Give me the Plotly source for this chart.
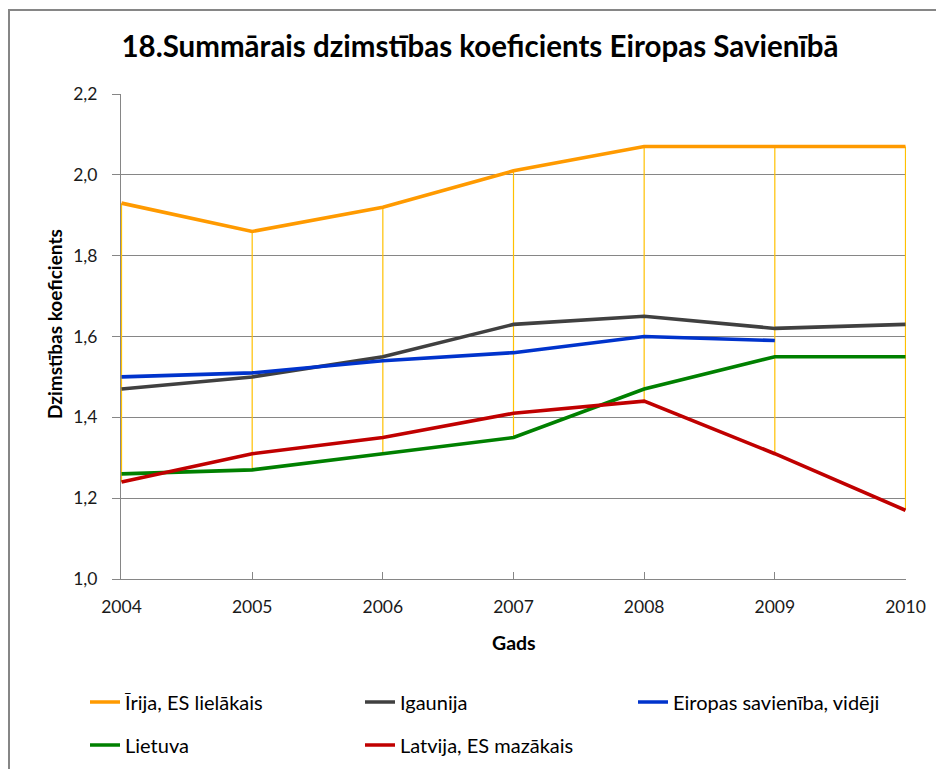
import numpy as np
import plotly.graph_objects as go

# data
years = [2004, 2005, 2006, 2007, 2008, 2009, 2010]
irija = [1.93, 1.86, 1.92, 2.01, 2.07, 2.07, 2.07]
igaunija = [1.47, 1.50, 1.55, 1.63, 1.65, 1.62, 1.63]
es_videji = [1.50, 1.51, 1.54, 1.56, 1.60, 1.59, None]
lietuva = [1.26, 1.27, 1.31, 1.35, 1.47, 1.55, 1.55]
latvija = [1.24, 1.31, 1.35, 1.41, 1.44, 1.31, 1.17]

series_names = ['Īrija, ES lielākais', 'Igaunija', 'Eiropas savienība, vidēji',
                'Lietuva', 'Latvija, ES mazākais']
series_values = [irija, igaunija, es_videji, lietuva, latvija]
series_colors = ['#FF9A00', '#404040', '#0033CC', '#008000', '#C00000']

FONT = 'Lato'
PAGE_OFF = 8  # the page body margin pushes the figure 8px right/down
W, H = 944 - PAGE_OFF, 769 - PAGE_OFF

# plot area in page pixels: x 121..906, y 94..579
def px(x):
    return (x - 121) / 785

def py(y):
    return (579 - y) / 485

# legend slots (page px of the legend box start, row centre)
legend_pos = [(85, 702), (360, 702), (633, 702), (85, 745), (360, 745)]

fig = go.Figure()

# high-low lines (max to min over all series for each year)
arr = np.array([[np.nan if v is None else v for v in s] for s in series_values])
hl_x, hl_y = [], []
for i, yr in enumerate(years):
    hl_x += [yr, yr, None]
    hl_y += [np.nanmax(arr[:, i]), np.nanmin(arr[:, i]), None]
fig.add_trace(go.Scatter(x=hl_x, y=hl_y, mode='lines', showlegend=False,
                         line=dict(color='#FFC000', width=1.2), hoverinfo='skip'))

legends = {}
for k, (name, vals, col) in enumerate(zip(series_names, series_values, series_colors)):
    lg = 'legend' if k == 0 else f'legend{k + 1}'
    fig.add_trace(go.Scatter(x=years, y=vals, name=name, mode='lines', legend=lg,
                             line=dict(color=col, width=3.6)))
    lx, ly = legend_pos[k]
    legends[lg] = dict(orientation='h', xref='container', yref='container',
                       x=(lx - PAGE_OFF) / W, xanchor='left',
                       y=1 - (ly - PAGE_OFF) / H, yanchor='middle',
                       font=dict(family=FONT, size=20, color='#000000'),
                       bgcolor='rgba(0,0,0,0)')

fig.update_layout(
    width=W, height=H,
    margin=dict(l=121 - PAGE_OFF, r=38, t=94 - PAGE_OFF, b=190),
    paper_bgcolor='white', plot_bgcolor='white',
    separators=', ',
    font=dict(family=FONT, color='#000000', size=17),
    title=dict(text='<b>18.Summārais dzimstības koeficients Eiropas Savienībā</b>',
               x=(480 - PAGE_OFF) / W, xanchor='center',
               y=1 - (47 - PAGE_OFF) / H, yanchor='middle',
               font=dict(family=FONT, size=29.5, color='#000000')),
    xaxis=dict(range=[2003.996, 2010.004], tickmode='array', tickvals=years,
               ticktext=[str(y) for y in years], showgrid=False,
               showline=True, linecolor='#868686', linewidth=1,
               ticks='inside', ticklen=7, tickcolor='#868686',
               ticklabelstandoff=12,
               tickfont=dict(size=17.5, color='#1a1a1a'), zeroline=False),
    yaxis=dict(range=[1.0, 2.2], dtick=0.2, tickformat='.1f',
               showgrid=True, gridcolor='#868686', gridwidth=1,
               showline=True, linecolor='#868686', linewidth=1,
               ticks='outside', ticklen=8, tickcolor='#868686',
               ticklabelstandoff=11,
               tickfont=dict(size=17.5, color='#1a1a1a'), zeroline=False),
    **legends,
)

# axis titles
fig.add_annotation(text='<b>Dzimstības koeficients</b>', xref='paper', yref='paper',
                   x=px(54), y=py(324), textangle=-90,
                   showarrow=False, xanchor='center', yanchor='middle',
                   font=dict(family=FONT, size=19))
fig.add_annotation(text='<b>Gads</b>', xref='paper', yref='paper',
                   x=px(514), y=py(642), showarrow=False,
                   xanchor='center', yanchor='middle', font=dict(family=FONT, size=19.5))

# chart-area border (runs off the right and bottom edges like the reference)
fig.add_shape(type='rect', xref='paper', yref='paper',
              x0=px(9), x1=1.2, y0=-0.6, y1=py(10),
              line=dict(color='#868686', width=2), fillcolor='rgba(0,0,0,0)', layer='below')

fig.write_html('out.html')
